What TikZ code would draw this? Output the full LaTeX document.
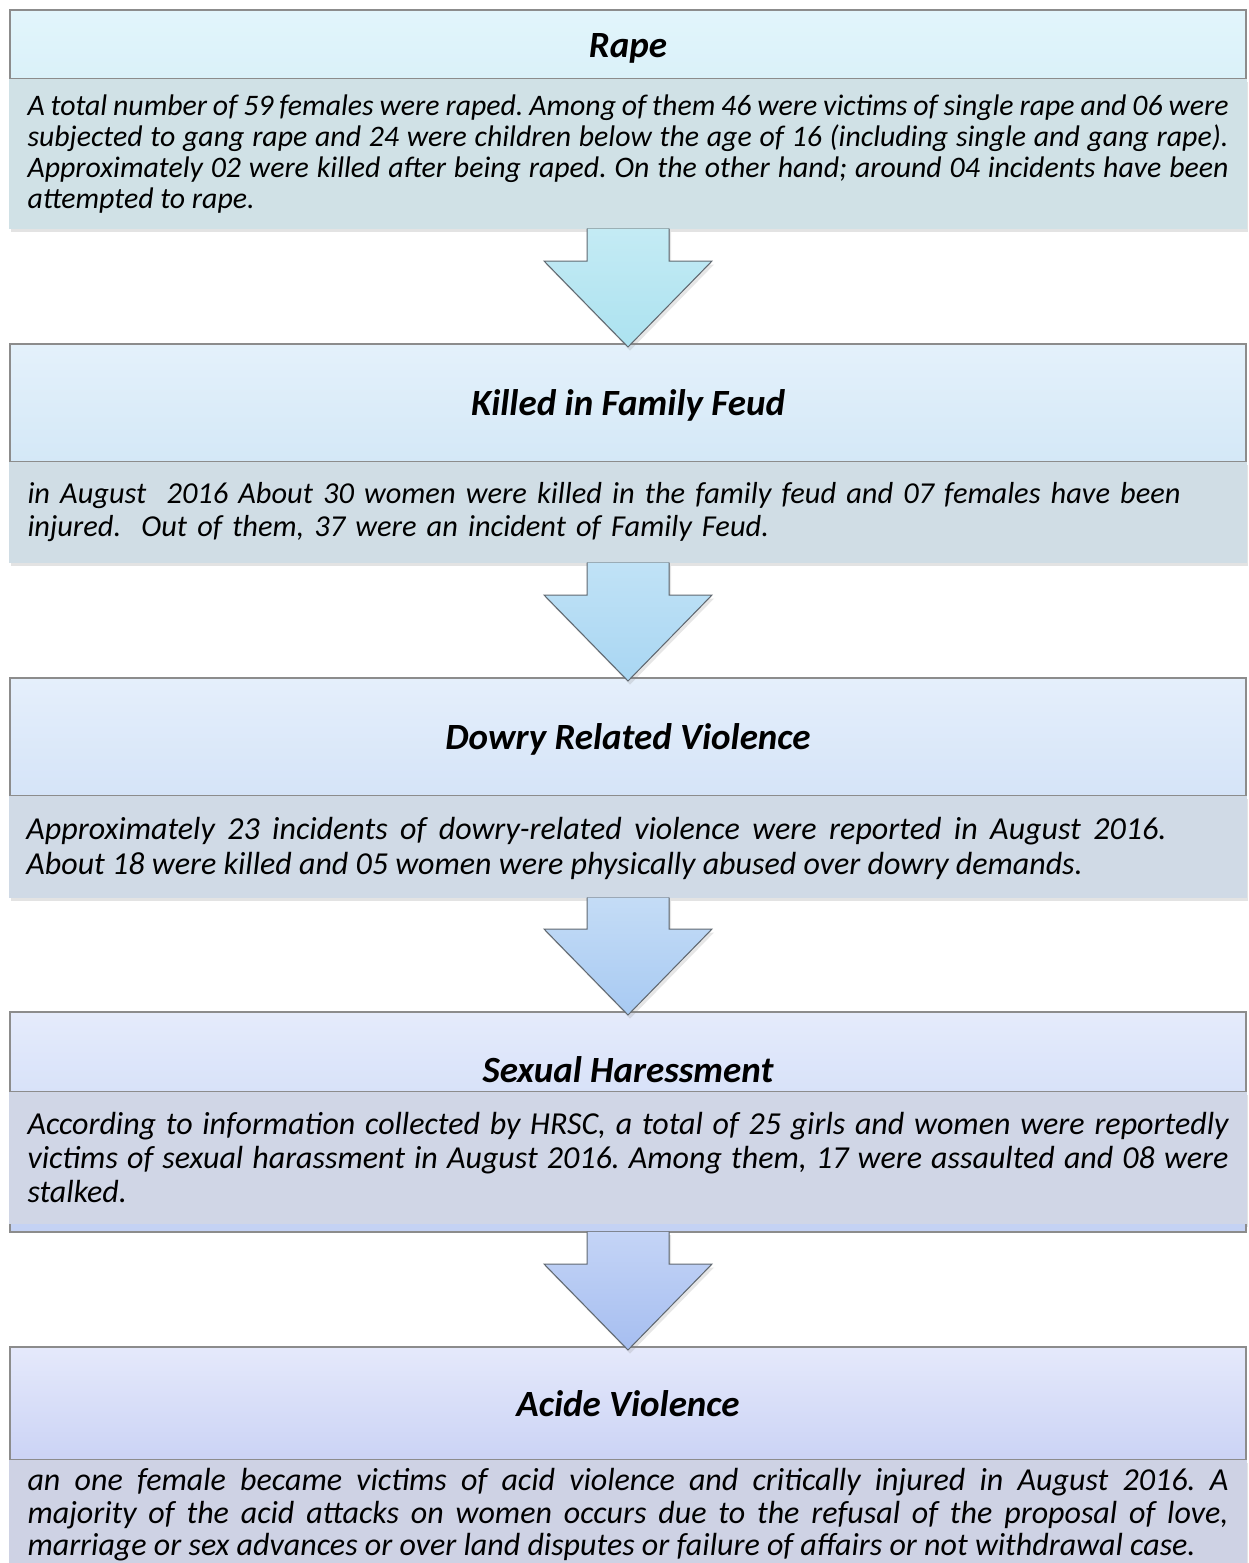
\documentclass[tikz,border=0pt]{standalone}
\usepackage{fontspec}
\setmainfont{Carlito}
\usetikzlibrary{positioning,calc,shadows}
\definecolor{rapehi}{RGB}{226,245,251}
\definecolor{rapelo}{RGB}{218,241,249}
\definecolor{rapetx}{RGB}{208,225,230}
\definecolor{feudhi}{RGB}{228,241,251}
\definecolor{feudlo}{RGB}{212,232,247}
\definecolor{feudtx}{RGB}{208,221,229}
\definecolor{dowryhi}{RGB}{229,239,251}
\definecolor{dowrylo}{RGB}{213,228,248}
\definecolor{dowrytx}{RGB}{208,218,230}
\definecolor{sexhi}{RGB}{229,235,251}
\definecolor{sexlo}{RGB}{216,226,249}
\definecolor{sextx}{RGB}{208,214,230}
\definecolor{sexft}{RGB}{196,210,244}
\definecolor{acidhi}{RGB}{229,233,251}
\definecolor{acidlo}{RGB}{203,211,245}
\definecolor{acidtx}{RGB}{206,210,228}
\definecolor{framegray}{RGB}{140,140,140}
\definecolor{arrowline}{RGB}{96,104,112}
\hyphenpenalty=10000
\exhyphenpenalty=10000

\begin{document}
\frenchspacing
\begin{tikzpicture}[x=0.5pt,y=-0.5pt,
  every node/.style={inner sep=0pt, outer sep=0pt},
  headband/.style 2 args={draw=framegray, line width=0.6pt, minimum width=618pt, top color=#1, bottom color=#2},
  textband/.style={fill=#1, minimum width=618.6pt, drop shadow={shadow xshift=0.8pt, shadow yshift=-1.6pt, opacity=0.22}},
  headfont/.style={font=\fontsize{18.5pt}{20pt}\selectfont\bfseries\itshape, text height=14pt, text depth=1.5pt},
  bodyfont/.style 2 args={font=\fontsize{#1}{#2}\selectfont\itshape, text width=600.5pt, align=justify},
  downarrow/.style 2 args={draw=arrowline, line width=0.5pt, top color=#1, bottom color=#2, line join=miter,
    drop shadow={shadow xshift=1pt, shadow yshift=-1.8pt, opacity=0.2}},
]
\useasboundingbox (0,0) rectangle (1248,1563);

% rape
\node[headband={rapehi}{rapelo}, minimum height=34.5pt, headfont] (rapehead) at (628,44.5) {Rape};
\node[textband=rapetx, minimum height=75pt, below=0pt of rapehead, bodyfont={14.9pt}{15.5pt}] (rapetext)
  {A total number of 59 females were raped. Among of them 46 were victims of single rape and 06 were\linebreak
   subjected to gang rape and 24 were children below the age of 16 (including single and gang rape).\linebreak
   Approximately 02 were killed after being raped. On the other hand; around 04 incidents have been\linebreak
   attempted to rape.};

% family feud
\node[headband={feudhi}{feudlo}, minimum height=59pt, below=57.5pt of rapetext, headfont] (feudhead) {Killed in Family Feud};
\node[textband=feudtx, minimum height=50.5pt, below=0pt of feudhead, bodyfont={15.2pt}{16.5pt}, align=left] (feudtext)
  {in August\ \ 2016 About 30 women were killed in the family feud and 07 females have been
   injured.\ \ Out of them, 37 were an incident of Family Feud.};

% dowry
\node[headband={dowryhi}{dowrylo}, minimum height=59pt, below=57.5pt of feudtext, headfont] (dowryhead) {Dowry Related Violence};
\node[textband=dowrytx, minimum height=51pt, below=0pt of dowryhead] (dowryband) {};
\node[bodyfont={16pt}{17.5pt}, text width=570pt, anchor=west] (dowrytext) at ([xshift=8.5pt,yshift=-0.5pt]dowryband.west)
  {Approximately 23 incidents of dowry-related violence were reported in August 2016.\linebreak
   About 18 were killed and 05 women were physically abused over dowry demands.};

% sexual harassment
\node[headband={sexhi}{sexlo}, minimum height=40pt, below=57pt of dowryband] (sexhead) {};
\node[headfont] (sextitle) at ([yshift=-9pt]sexhead.center) {Sexual Haressment};
\node[textband=sextx, minimum height=66pt, below=0pt of sexhead, bodyfont={16pt}{17pt}] (sextext)
  {According to information collected by HRSC, a total of 25 girls and women were reportedly\linebreak
   victims of sexual harassment in August 2016. Among them, 17 were assaulted and 08 were\linebreak
   stalked.};
\node[fill=sexft, minimum width=618pt, minimum height=4pt, below=0pt of sextext] (sexfoot) {};
\draw[framegray, line width=0.6pt] (sexfoot.north west) -- (sexfoot.south west) -- (sexfoot.south east) -- (sexfoot.north east);

% acid
\node[headband={acidhi}{acidlo}, minimum height=56.5pt, below=57.5pt of sexfoot, headfont] (acidhead) {Acide Violence};
\node[textband=acidtx, minimum height=55pt, below=0pt of acidhead, bodyfont={16pt}{16.2pt}] (acidtext)
  {an one female became victims of acid violence and critically injured in August 2016. A\linebreak
   majority of the acid attacks on women occurs due to the refusal of the proposal of love,\linebreak
   marriage or sex advances or over land disputes or failure of affairs or not withdrawal case.};

% block arrows
\foreach \from/\to/\hi/\lo in {rapetext/feudhead/{196,235,244}/{172,226,240},
                              feudtext/dowryhead/{192,226,246}/{169,214,242},
                              dowryband/sexhead/{196,220,246}/{168,202,242},
                              sexfoot/acidhead/{196,212,246}/{166,190,240}}{
  \definecolor{archi}{RGB}{\hi}
  \definecolor{arclo}{RGB}{\lo}
  \filldraw[downarrow={archi}{arclo}]
    ($(\from.south)+(-41,-0.5)$) -- ($(\to.north)+(-41,-83)$) -- ($(\to.north)+(-84,-83)$)
    -- ($(\to.north)+(0,3)$) -- ($(\to.north)+(84,-83)$) -- ($(\to.north)+(41,-83)$)
    -- ($(\from.south)+(41,-0.5)$);
}
\end{tikzpicture}
\end{document}
